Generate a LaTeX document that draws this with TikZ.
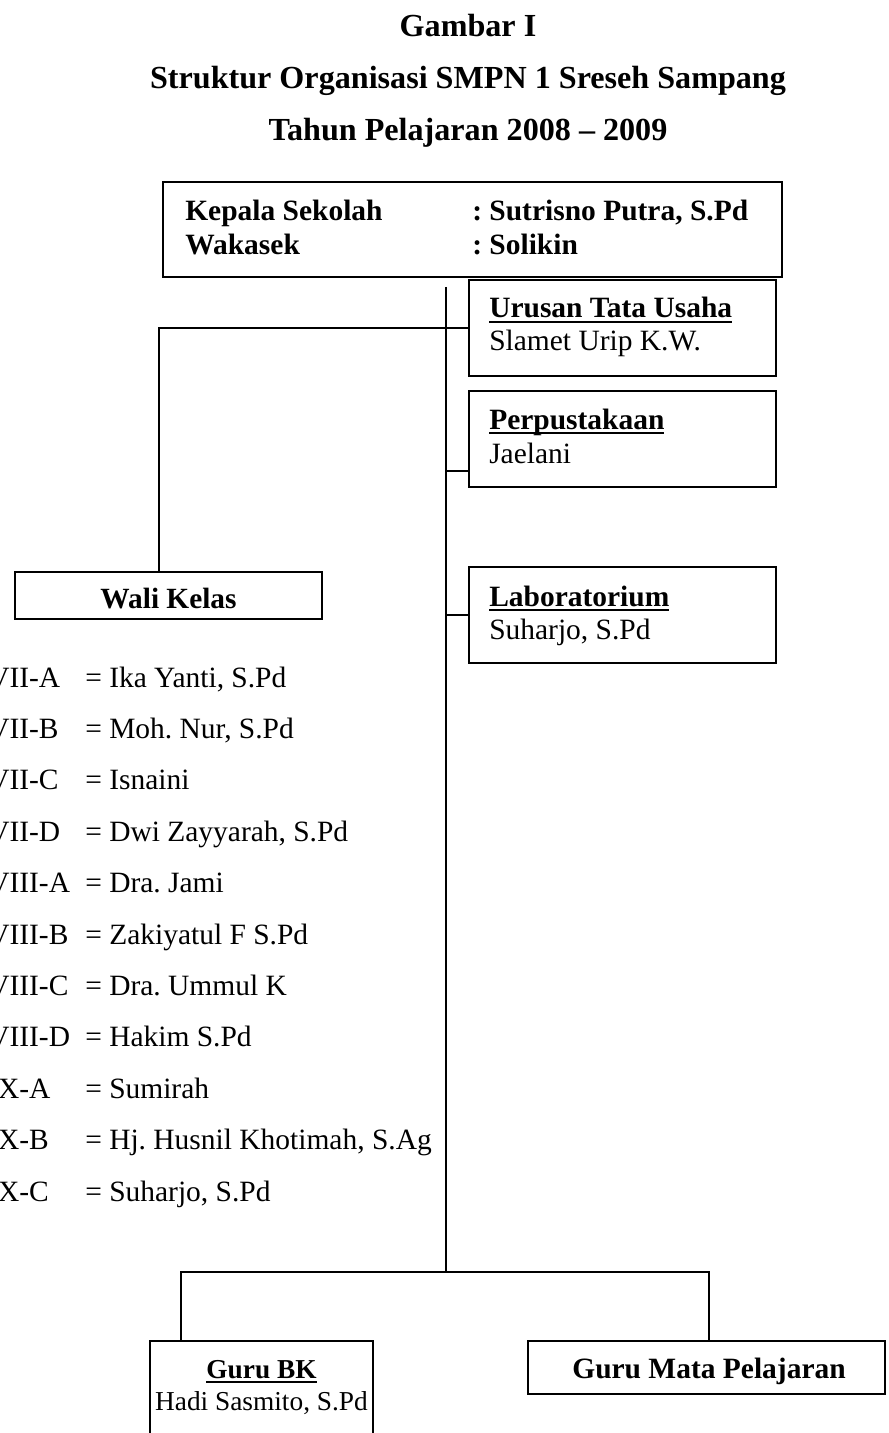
\documentclass[tikz,border=0pt]{standalone}
\usepackage{fontspec}
\setmainfont{Liberation Serif}
\usetikzlibrary{calc}
\frenchspacing
\newcommand{\ulx}[1]{\setbox0\hbox{#1}\rlap{\rule[-0.17em]{\wd0}{0.065em}}\box0}
\tikzset{
  box/.style={draw, line width=1.5pt, rectangle, inner sep=0pt, outer sep=0pt},
  conn/.style={line width=1.5pt},
  txt/.style={inner sep=0pt, anchor=base west, font=\fontsize{22.1pt}{26pt}\selectfont},
  btxt/.style={txt, font=\fontsize{22.1pt}{26pt}\selectfont\bfseries},
  ctxt/.style={inner sep=0pt, anchor=base, font=\fontsize{22.1pt}{26pt}\selectfont},
  title/.style={inner sep=0pt, anchor=base, font=\fontsize{24.1pt}{28pt}\selectfont\bfseries},
}
\begin{document}
\begin{tikzpicture}[x=0.75pt,y=-0.75pt]
\useasboundingbox (0,0) rectangle (888,1433);
\fill[white] (0,0) rectangle (888,1433);
\clip (0,0) rectangle (888,1433);

% titles
\node[title] (t1) at (468,37) {Gambar I};
\node[title] (t2) at (468,89) {Struktur Organisasi SMPN 1 Sreseh Sampang};
\node[title] (t3) at (468,141) {Tahun Pelajaran 2008 -- 2009};

% top box
\node[box, minimum width=619*0.75pt, minimum height=95*0.75pt] (top) at (472.5,229.5) {};
\node[btxt] (ks) at (185,221) {Kepala Sekolah};
\node[btxt] (wk) at (185,255) {Wakasek};
\node[btxt] (ksn) at (472,221) {: Sutrisno Putra, S.Pd};
\node[btxt] (wkn) at (472,255) {: Solikin};

% right boxes
\node[box, minimum width=307*0.75pt, minimum height=96*0.75pt] (ub) at (622.5,328) {};
\node[btxt] (ubh) at (489,318) {\ulx{Urusan Tata Usaha}};
\node[txt] (ubn) at (489,351) {Slamet Urip K.W.};

\node[box, minimum width=307*0.75pt, minimum height=96*0.75pt] (pp) at (622.5,439) {};
\node[btxt] (pph) at (489,429) {\ulx{Perpustakaan}};
\node[txt] (ppn) at (489,463) {Jaelani};

\node[box, minimum width=307*0.75pt, minimum height=96*0.75pt] (lab) at (622.5,615) {};
\node[btxt] (labh) at (489,606) {\ulx{Laboratorium}};
\node[txt] (labn) at (489,639) {Suharjo, S.Pd};

% wali kelas
\node[box, minimum width=307*0.75pt, minimum height=47*0.75pt] (wali) at (168.5,595.5) {};
\node[inner sep=0pt, anchor=base, font=\fontsize{22pt}{26pt}\selectfont\bfseries] (walih) at (168.5,608) {Wali Kelas};

% class list
\foreach \i/\k/\n in {0/VII-A/Ika Yanti{,} S.Pd, 1/VII-B/Moh. Nur{,} S.Pd, 2/VII-C/Isnaini, 3/VII-D/Dwi Zayyarah{,} S.Pd,
  4/VIII-A/Dra. Jami, 5/VIII-B/Zakiyatul F S.Pd, 6/VIII-C/Dra. Ummul K, 7/VIII-D/Hakim S.Pd,
  8/IX-A/Sumirah, 9/IX-B/Hj. Husnil Khotimah{,} S.Ag, 10/IX-C/Suharjo{,} S.Pd}{
  \node[txt] (k\i) at (-12,687+51.4*\i) {\k};
  \node[txt] (n\i) at (85,687+51.4*\i) {= \n};
}

% bottom boxes
\node[box, minimum width=223*0.75pt, minimum height=110*0.75pt] (bk) at (261.5,1396) {};
\node[ctxt, font=\fontsize{20.5pt}{24pt}\selectfont\bfseries] (bkh) at (261.5,1378) {\ulx{Guru BK}};
\node[ctxt, font=\fontsize{20.5pt}{24pt}\selectfont] (bkn) at (261.5,1410) {Hadi Sasmito, S.Pd};

\node[box, minimum width=357*0.75pt, minimum height=53*0.75pt] (gmp) at (706.5,1367.5) {};
\node[ctxt, font=\fontsize{22.1pt}{26pt}\selectfont\bfseries] (gmph) at (709,1378) {Guru Mata Pelajaran};

% connectors
\coordinate (spinetop) at (446,287);
\coordinate (spinebot) at (446,1272);
\coordinate (wkx) at (159,328);
\coordinate (ppj) at (446,471);
\coordinate (bl) at (181,1272);
\coordinate (br) at (709,1272);

\draw[conn] (spinetop) -- (spinebot);
\draw[conn] (wali.north -| wkx) |- (ub.west);
\draw[conn] (ppj) -- (ppj -| pp.west);
\draw[conn] (lab.west) -- (lab.west -| spinetop);
\draw[conn] (bk.north -| bl) -- (bl) -- (br) -- (gmp.north -| br);
\end{tikzpicture}
\end{document}
